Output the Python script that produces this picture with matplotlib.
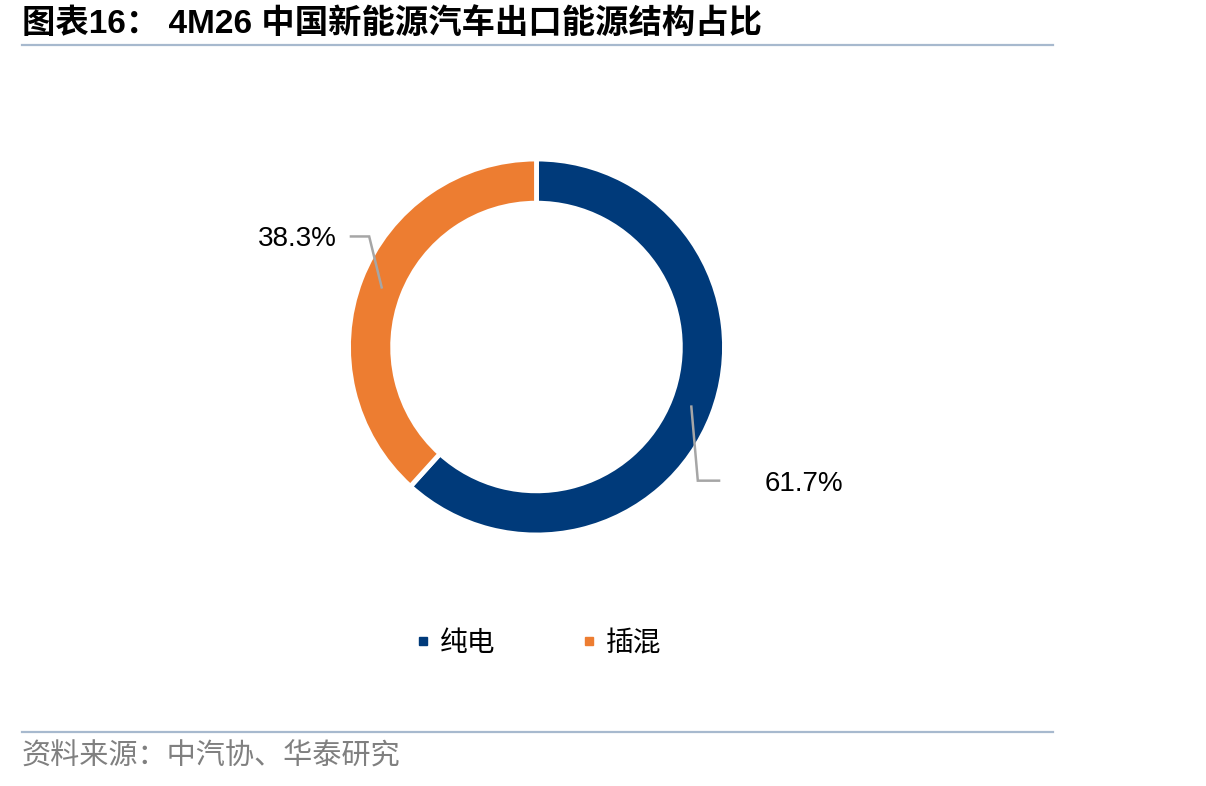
import matplotlib.pyplot as plt
import numpy as np
from matplotlib.lines import Line2D

categories = ['纯电', '插混']
shares = [61.7, 38.3]
colors = ['#003A7A', '#ED7D31']

title = '图表16： 4M26 中国新能源汽车出口能源结构占比'
source = '资料来源：中汽协、华泰研究'

W, H = 1206, 786
fig = plt.figure(figsize=(W / 100, H / 100), dpi=100)

# donut geometry in pixels
cx, cy, R = 536.5, 347, 188
side = 520
ax = fig.add_axes([(cx - side / 2) / W, 1 - (cy + side / 2) / H, side / W, side / H])
lim = side / (2 * R)

ring = 0.235
wedges, _ = ax.pie(shares, colors=colors, startangle=90, counterclock=False,
                   radius=1, wedgeprops=dict(width=ring, edgecolor='white', linewidth=3.5),
                   center=(0, 0), frame=True)
ax.set_xlim(-lim, lim)
ax.set_ylim(-lim, lim)
ax.axis('off')

# leader lines + labels (elbow positions are layout offsets)
elbows = [((0.858, -0.711), (0.971, -0.711), (1.215, -0.727), 'left'),
          ((-0.890, 0.588), (-0.987, 0.588), (-1.061, 0.572), 'right')]
rmid = 1 - ring / 2
for w, v, (e1, e2, t, ha) in zip(wedges, shares, elbows):
    ang = np.deg2rad((w.theta1 + w.theta2) / 2)
    ax_, ay_ = rmid * np.cos(ang), rmid * np.sin(ang)
    ax.add_line(Line2D([ax_, e1[0], e2[0]], [ay_, e1[1], e2[1]],
                       color='#A6A6A6', lw=1.8, solid_joinstyle='miter'))
    ax.text(t[0], t[1], f'{v:.1f}%', ha=ha, va='center', fontsize=20,
            family=['Liberation Sans', 'DejaVu Sans'], color='black')

# title and rules
fig.text(22 / W, 1 - 24 / H, title, fontsize=24, fontweight='bold', va='center', ha='left',
         family=['Liberation Sans', 'Noto Sans CJK SC'], color='black')
fig.add_artist(Line2D([22 / W, 1053 / W], [1 - 45 / H] * 2, color='#A7B9CE', lw=1.6))
fig.add_artist(Line2D([22 / W, 1053 / W], [1 - 732 / H] * 2, color='#A7B9CE', lw=1.6))
fig.text(22 / W, 1 - 757 / H, source, fontsize=21, va='center', ha='left',
         family=['Noto Sans CJK SC'], fontweight='light', color='#808080')

# legend
handles = [Line2D([], [], ls='none', marker='s', markersize=6, color=c) for c in colors]
fig.legend(handles, categories, loc='center', bbox_to_anchor=(538 / W, 1 - 643 / H),
           ncol=2, frameon=False, prop={'family': 'Noto Sans CJK SC', 'size': 20},
           handlelength=0.6, handletextpad=0.3, columnspacing=3.1)

fig.savefig('out.png', dpi=100)
